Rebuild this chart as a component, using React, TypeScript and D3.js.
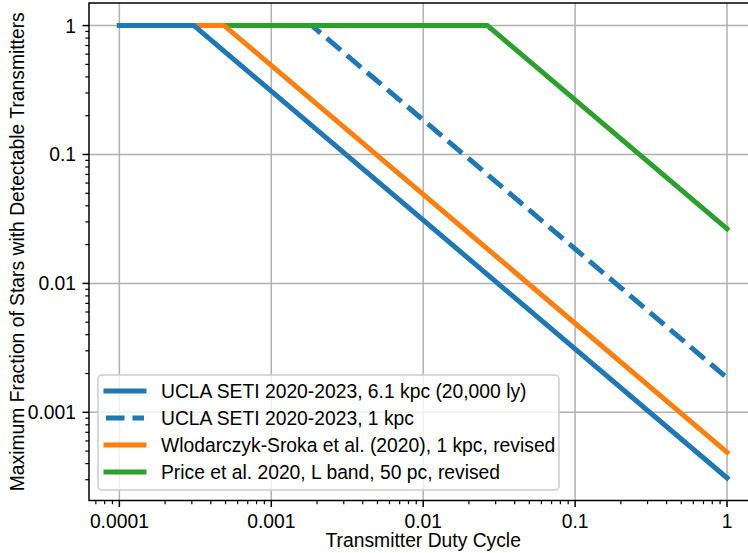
import React from "react";
import * as d3 from "d3";

// ---------- data ----------
const seriesLabels = [
  "UCLA SETI 2020-2023, 6.1 kpc (20,000 ly)",
  "UCLA SETI 2020-2023, 1 kpc",
  "Wlodarczyk-Sroka et al. (2020), 1 kpc, revised",
  "Price et al. 2020, L band, 50 pc, revised",
];
const seriesColors = ["#1f77b4", "#1f77b4", "#ff7f0e", "#2ca02c"];
const seriesDashed = [false, true, false, false];

// [duty cycle, max fraction] breakpoints
const uclaFar: [number, number][] = [[0.0001, 1], [0.00031, 1], [1, 0.00031]];
const uclaNear: [number, number][] = [[0.0001, 1], [0.00185, 1], [1, 0.00185]];
const wlodarczyk: [number, number][] = [[0.0001, 1], [0.00049, 1], [1, 0.00049]];
const price: [number, number][] = [[0.0001, 1], [0.0265, 1], [1, 0.0265]];
const seriesData = [uclaFar, uclaNear, wlodarczyk, price];
// bottom-to-top drawing order
const drawOrder = [1, 3, 2, 0];

const xTicks = [0.0001, 0.001, 0.01, 0.1, 1];
const xTickLabels = ["0.0001", "0.001", "0.01", "0.1", "1"];
const yTicks = [0.001, 0.01, 0.1, 1];
const yTickLabels = ["0.001", "0.01", "0.1", "1"];

const xLabel = "Transmitter Duty Cycle";
const yLabel = "Maximum Fraction of Stars with Detectable Transmitters";

// ---------- layout ----------
const W = 748;
const H = 553;
const left = 89;
const right = 757.4;
const top = 3;
const bottom = 500.5;
const FONT = "'Liberation Sans', Arial, Helvetica, sans-serif";
const FS = 19.3;

export default function App() {
  const x = d3.scaleLog().domain([Math.pow(10, -4.2), Math.pow(10, 0.2)]).range([left, right]);
  const y = d3.scaleLog().domain([Math.pow(10, -3.684), Math.pow(10, 0.175)]).range([bottom, top]);

  const line = d3
    .line<[number, number]>()
    .x((d) => x(d[0]))
    .y((d) => y(d[1]));

  const [x0, x1] = x.domain();
  const [y0, y1] = y.domain();
  const minorX: number[] = [];
  for (let e = -5; e <= 1; e++) for (let k = 2; k <= 9; k++) {
    const v = k * Math.pow(10, e);
    if (v >= x0 && v <= x1) minorX.push(v);
  }
  const minorY: number[] = [];
  for (let e = -5; e <= 1; e++) for (let k = 2; k <= 9; k++) {
    const v = k * Math.pow(10, e);
    if (v >= y0 && v <= y1) minorY.push(v);
  }

  const majLen = 6.5;
  const minLen = 3.7;
  const lw = 5;

  // legend
  const legX = 98, legY = 375, legW = 461, legH = 115;
  const rowY = [391, 418, 445, 472];

  return (
    <svg width={W} height={H} style={{ position: "absolute", left: 0, top: 0, background: "#fff" }} fontFamily={FONT}>
      <defs>
        <clipPath id="plotclip">
          <rect x={left} y={top} width={right - left} height={bottom - top} />
        </clipPath>
      </defs>
      <rect x={0} y={0} width={W} height={H} fill="#fff" />
      {/* grid */}
      <g stroke="#b0b0b0" strokeWidth={1.5}>
        {xTicks.map((t) => (
          <line key={"gx" + t} x1={x(t)} x2={x(t)} y1={top} y2={bottom} />
        ))}
        {yTicks.map((t) => (
          <line key={"gy" + t} x1={left} x2={right} y1={y(t)} y2={y(t)} />
        ))}
      </g>
      {/* series */}
      <g clipPath="url(#plotclip)" fill="none">
        {drawOrder.map((i) => (
          <path
            key={"s" + i}
            d={line(seriesData[i]) || ""}
            stroke={seriesColors[i]}
            strokeWidth={lw}
            strokeLinejoin="round"
            strokeLinecap={seriesDashed[i] ? "butt" : "square"}
            strokeDasharray={seriesDashed[i] ? "18.5 8" : undefined}
          />
        ))}
      </g>
      {/* spines */}
      <rect x={left} y={top} width={right - left} height={bottom - top} fill="none" stroke="#000" strokeWidth={1.5} />
      {/* ticks */}
      <g stroke="#000" strokeWidth={1.5}>
        {xTicks.map((t) => (
          <line key={"tx" + t} x1={x(t)} x2={x(t)} y1={bottom} y2={bottom + majLen} />
        ))}
        {minorX.map((t) => (
          <line key={"mx" + t} x1={x(t)} x2={x(t)} y1={bottom} y2={bottom + minLen} strokeWidth={1.2} />
        ))}
        {yTicks.map((t) => (
          <line key={"ty" + t} x1={left - majLen} x2={left} y1={y(t)} y2={y(t)} />
        ))}
        {minorY.map((t) => (
          <line key={"my" + t} x1={left - minLen} x2={left} y1={y(t)} y2={y(t)} strokeWidth={1.2} />
        ))}
      </g>
      <g fontSize={FS} fill="#000">
        {xTicks.map((t, i) => (
          <text key={"lx" + t} x={x(t)} y={bottom + 27} textAnchor="middle">
            {xTickLabels[i]}
          </text>
        ))}
        {yTicks.map((t, i) => (
          <text key={"ly" + t} x={left - 13} y={y(t) + 7} textAnchor="end">
            {yTickLabels[i]}
          </text>
        ))}
        <text x={(left + right) / 2} y={547} textAnchor="middle">
          {xLabel}
        </text>
        <text transform={`translate(24, ${(top + bottom) / 2}) rotate(-90)`} textAnchor="middle">
          {yLabel}
        </text>
      </g>
      {/* legend */}
      <g>
        <rect x={legX} y={legY} width={legW} height={legH} rx={4} ry={4} fill="#fff" fillOpacity={0.8} stroke="#cccccc" strokeWidth={1.5} />
        {seriesLabels.map((lab, i) => (
          <g key={"lg" + i}>
            <line
              x1={106}
              x2={144}
              y1={rowY[i]}
              y2={rowY[i]}
              stroke={seriesColors[i]}
              strokeWidth={lw}
              strokeLinecap={seriesDashed[i] ? "butt" : "square"}
              strokeDasharray={seriesDashed[i] ? "18.5 8" : undefined}
            />
            <text x={161} y={rowY[i] + 7} fontSize={FS} fill="#000">
              {lab}
            </text>
          </g>
        ))}
      </g>
    </svg>
  );
}
